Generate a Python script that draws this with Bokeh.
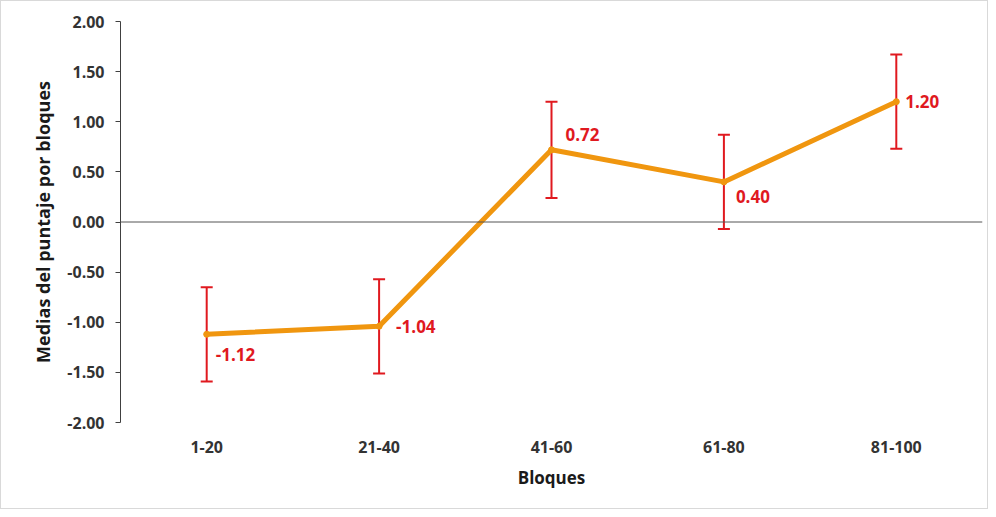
from bokeh.plotting import figure
from bokeh.models import ColumnDataSource, Whisker, Span, SingleIntervalTicker, CustomJSTickFormatter
from bokeh.core.properties import value
from bokeh.embed import file_html
from bokeh.resources import INLINE

categories = ["1-20", "21-40", "41-60", "61-80", "81-100"]
means = [-1.12, -1.04, 0.72, 0.40, 1.20]
errors = [0.47, 0.47, 0.48, 0.47, 0.47]
labels = ["-1.12", "-1.04", "0.72", "0.40", "1.20"]

# label placement (style only)
lab_dx = [9, 17, 14, 12, 9]
lab_dy = [20, 0, -15, 15, 0]

FONT = "Open Sans"

src = ColumnDataSource(dict(
    x=categories, y=means,
    upper=[m + e for m, e in zip(means, errors)],
    lower=[m - e for m, e in zip(means, errors)],
    lab=labels, dx=lab_dx, dy=lab_dy,
))

p = figure(x_range=categories, y_range=(-2.0, 2.0), width=988, height=509,
           output_backend="svg", toolbar_location=None,
           min_border_left=119, min_border_right=7, min_border_top=20, min_border_bottom=88)
p.styles = {"border": "1px solid #d9d9d9"}
p.outline_line_color = None
p.xgrid.grid_line_color = None
p.ygrid.grid_line_color = None
p.x_range.range_padding = 0

# axes
p.yaxis.ticker = SingleIntervalTicker(interval=0.5)
p.yaxis.formatter = CustomJSTickFormatter(code="return tick.toFixed(2);")
p.yaxis.axis_line_color = "#404040"
p.yaxis.major_tick_line_color = "#404040"
p.yaxis.major_tick_out = 5
p.yaxis.major_tick_in = 0
p.yaxis.minor_tick_line_color = None
p.yaxis.major_label_text_font = FONT
p.yaxis.major_label_text_font_style = "bold"
p.yaxis.major_label_text_font_size = "16px"
p.yaxis.major_label_text_color = "#333333"
p.yaxis.major_label_standoff = 11
p.yaxis.axis_label = "Medias del puntaje por bloques"
p.yaxis.axis_label_text_font = FONT
p.yaxis.axis_label_text_font_style = "bold"
p.yaxis.axis_label_text_font_size = "18px"
p.yaxis.axis_label_text_color = "#1a1a1a"
p.yaxis.axis_label_standoff = 9

p.xaxis.axis_line_color = None
p.xaxis.major_tick_line_color = None
p.xaxis.minor_tick_line_color = None
p.xaxis.major_label_text_font = FONT
p.xaxis.major_label_text_font_style = "bold"
p.xaxis.major_label_text_font_size = "16px"
p.xaxis.major_label_text_color = "#333333"
p.xaxis.major_label_standoff = 12
p.xaxis.axis_label = "Bloques"
p.xaxis.axis_label_text_font = FONT
p.xaxis.axis_label_text_font_style = "bold"
p.xaxis.axis_label_text_font_size = "17px"
p.xaxis.axis_label_text_color = "#1a1a1a"
p.xaxis.axis_label_standoff = 10

p.add_layout(Span(location=0, dimension="width", line_color="#555555", line_width=1))

p.line("x", "y", source=src, line_color="#F0960F", line_width=5)
p.scatter("x", "y", source=src, size=6, color="#F0960F")

w = Whisker(base="x", upper="upper", lower="lower", source=src,
            line_color="#E0191F", line_width=2)
w.upper_head.size = 12
w.lower_head.size = 12
w.upper_head.line_color = "#E0191F"
w.lower_head.line_color = "#E0191F"
w.upper_head.line_width = 2
w.lower_head.line_width = 2
p.add_layout(w)

p.text("x", "y", text="lab", source=src, x_offset="dx", y_offset="dy",
       text_font=value(FONT), text_font_style="bold", text_font_size="17px",
       text_color="#E0191F", text_baseline="middle", text_align="left")

open("out.html", "w").write(file_html(p, INLINE))
